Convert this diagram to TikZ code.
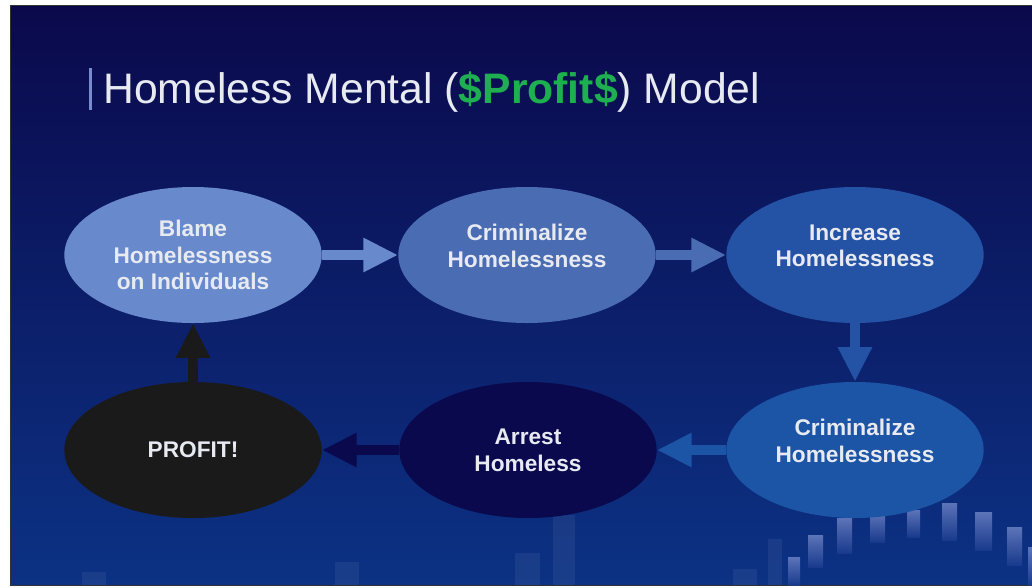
\documentclass[tikz,border=0pt]{standalone}
\usepackage{fontspec}
\setmainfont{Liberation Sans}
\usetikzlibrary{shapes.geometric,arrows.meta}

\definecolor{bgtop}{RGB}{11,9,76}
\definecolor{bgmid}{RGB}{12,24,102}
\definecolor{bgbot}{RGB}{12,50,132}
\definecolor{blamecol}{RGB}{104,138,204}
\definecolor{crimcol}{RGB}{74,108,178}
\definecolor{inccol}{RGB}{36,82,165}
\definecolor{crimbcol}{RGB}{28,84,166}
\definecolor{arrestcol}{RGB}{10,9,78}
\definecolor{profitcol}{RGB}{26,26,26}
\definecolor{txtcol}{RGB}{232,234,242}
\definecolor{moneygreen}{RGB}{30,175,80}
\definecolor{barhi}{RGB}{120,140,205}
\definecolor{barlo}{RGB}{30,62,145}

\begin{document}
\begin{tikzpicture}[x=0.75pt,y=-0.75pt,
	bubble/.style={ellipse,minimum width=193pt,minimum height=102pt,inner sep=0pt,align=center,text=txtcol,font=\bfseries\fontsize{17}{20}\selectfont},
	link/.style={line width=7.5pt,-{Triangle[length=26pt,width=24pt]}}]
	\useasboundingbox (0,0) rectangle (1032,587);
	\fill [white] (0,0) rectangle (1032,587);
	\shade [top color=bgtop,middle color=bgmid,bottom color=bgbot] (10,5) rectangle (1032,585);
	\draw [color=black!80,line width=0.75pt] (10,5) rectangle (1033,585);
	
	% chart bars in the background
	\foreach \xa/\xb/\ya/\yb in {82/106/572/585,335/359/562/585,515/540/553/585,553/575/515/585,733/757/569/585,768/782/539/585}
		\fill [white,opacity=0.06] (\xa,\ya) rectangle (\xb,\yb);
	\foreach \xa/\xb/\ya/\yb in {788/800/557/585,808/823/535/567,837/852/518/553,870/885/513/542,907/920/510/537,942/957/503/540,975/992/512/550,1007/1022/527/565,1028/1036/547/585}
		\shade [top color=barhi,bottom color=barlo,opacity=0.75] (\xa,\ya) rectangle (\xb,\yb);
	
	\draw [color=barhi,line width=2.25pt] (90.5,68) -- (90.5,110);
	\node [anchor=base west,inner sep=0pt,text=txtcol,font=\fontsize{32}{38}\selectfont] (title) at (103,103) {Homeless Mental ({\bfseries\color{moneygreen}\$Profit\$}) Model};
	
	\node [bubble,fill=blamecol] (blame) at (193,255) {Blame\\Homelessness\\on Individuals};
	\node [bubble,fill=crimcol] (crim) at (527,255) {Criminalize\\Homelessness\\[-6pt]\mbox{}};
	\node [bubble,fill=inccol] (incr) at (855,255) {Increase\\Homelessness\\[-6pt]\mbox{}};
	\node [bubble,fill=crimbcol] (crimb) at (855,450) {Criminalize\\Homelessness\\[-6pt]\mbox{}};
	\node [bubble,fill=arrestcol] (arrest) at (528,450) {Arrest\\Homeless};
	\node [bubble,fill=profitcol] (profit) at (193,450) {PROFIT!};
	
	\draw [link,color=blamecol] (blame) -- (crim);
	\draw [link,color=crimcol] (crim) -- (incr);
	\draw [link,color=inccol] (incr) -- (crimb);
	\draw [link,color=crimbcol] (crimb) -- (arrest);
	\draw [link,color=arrestcol] (arrest) -- (profit);
	\draw [link,color=profitcol] (profit) -- (blame);
\end{tikzpicture}
\end{document}
